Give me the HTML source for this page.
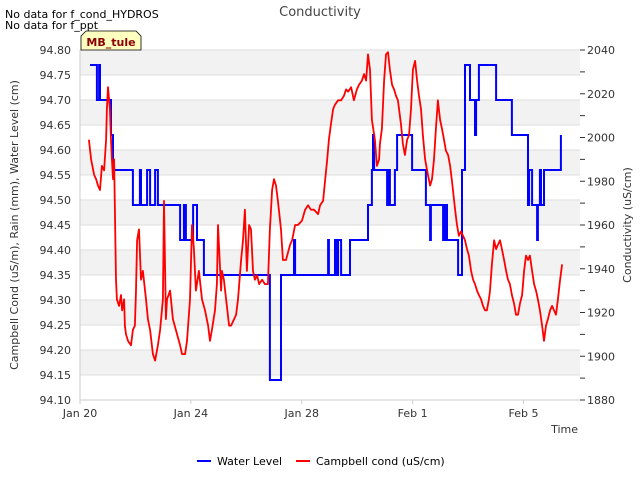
<!DOCTYPE html>
<html><head><meta charset="utf-8"><style>
body{margin:0;background:#fff;font-family:"Liberation Sans","DejaVu Sans",sans-serif}
svg text{font-family:"DejaVu Sans","Liberation Sans",sans-serif}
</style></head><body>
<svg id="chart" width="640" height="480" viewBox="0 0 640 480" xmlns="http://www.w3.org/2000/svg">
<g id="bands"></g>
<g id="axes"></g>
<g id="series"></g>
<text x="320" y="16" text-anchor="middle" font-size="13" fill="#444">Conductivity</text>
<text x="5" y="18" font-size="11" fill="#000">No data for f_cond_HYDROS</text>
<text x="5" y="29" font-size="11" fill="#000">No data for f_ppt</text>
<g><path d="M81,50 L81,36 L86,31 L136,31 L141,36 L141,50 Z" fill="#ffffc0" stroke="#000" stroke-width="0.8"/><text x="111" y="46" text-anchor="middle" font-size="11" font-weight="bold" fill="#8b0000">MB_tule</text></g>
<text transform="translate(18,225) rotate(-90)" text-anchor="middle" font-size="11" fill="#333">Campbell Cond (uS/m), Rain (mm), Water Level (cm)</text>
<text transform="translate(631,225) rotate(-90)" text-anchor="middle" font-size="11" fill="#333">Conductivity (uS/cm)</text>
<text x="578" y="433" text-anchor="end" font-size="11" fill="#333">Time</text>
<g>
<g><line x1="197" y1="461" x2="211" y2="461" stroke="#00f" stroke-width="2"/><text x="217" y="465" font-size="11">Water Level</text></g>
<g><line x1="296" y1="461" x2="310" y2="461" stroke="#f00" stroke-width="2"/><text x="316" y="465" font-size="11">Campbell cond (uS/cm)</text></g>
</g>
</svg>
<script>
const xTickDays=[0,4,8,12,16];
const xTickLabels=["Jan 20","Jan 24","Jan 28","Feb 1","Feb 5"];
const leftTicks=[94.10,94.15,94.20,94.25,94.30,94.35,94.40,94.45,94.50,94.55,94.60,94.65,94.70,94.75,94.80];
const rightTicks=[1880,1900,1920,1940,1960,1980,2000,2020,2040];
const waterDays=[0.36,0.61,0.69,0.72,1.12,1.19,1.91,2.16,2.20,2.42,2.53,2.71,2.81,3.61,3.75,3.82,4.08,4.22,4.47,6.85,7.25,7.72,7.76,8.95,8.98,9.20,9.24,9.31,9.42,9.74,10.39,10.53,10.57,10.61,11.08,11.15,11.18,11.36,11.44,11.98,12.48,12.63,12.66,13.10,13.17,13.24,13.64,13.78,13.89,14.07,14.25,14.29,14.39,15.01,15.58,16.16,16.20,16.31,16.49,16.52,16.59,16.63,16.74,17.35];
const waterLevel=[94.77,94.70,94.77,94.70,94.63,94.56,94.49,94.56,94.49,94.56,94.49,94.56,94.49,94.42,94.49,94.42,94.49,94.42,94.35,94.14,94.35,94.42,94.35,94.42,94.35,94.42,94.35,94.42,94.35,94.42,94.49,94.56,94.63,94.56,94.49,94.56,94.49,94.56,94.63,94.56,94.49,94.42,94.49,94.42,94.49,94.42,94.35,94.56,94.77,94.70,94.63,94.70,94.77,94.70,94.63,94.49,94.56,94.49,94.42,94.49,94.56,94.49,94.56,94.63];
const condDays=[0.32,0.40,0.51,0.58,0.65,0.72,0.79,0.87,0.94,0.97,1.01,1.08,1.12,1.15,1.19,1.23,1.30,1.33,1.41,1.48,1.52,1.59,1.62,1.66,1.73,1.84,1.91,1.98,2.02,2.06,2.13,2.20,2.27,2.38,2.45,2.53,2.63,2.71,2.81,2.89,2.99,3.03,3.10,3.14,3.25,3.35,3.46,3.61,3.68,3.79,3.86,3.97,4.04,4.11,4.18,4.29,4.40,4.51,4.62,4.69,4.76,4.87,4.94,4.98,5.09,5.12,5.19,5.27,5.38,5.45,5.56,5.63,5.70,5.81,5.88,5.95,6.02,6.10,6.17,6.24,6.31,6.39,6.46,6.57,6.67,6.78,6.85,6.93,7.00,7.07,7.14,7.25,7.32,7.43,7.58,7.65,7.76,7.86,8.01,8.12,8.23,8.33,8.44,8.59,8.66,8.77,8.84,8.91,8.98,9.05,9.13,9.20,9.31,9.42,9.52,9.60,9.67,9.78,9.88,9.99,10.06,10.17,10.25,10.32,10.39,10.46,10.53,10.64,10.71,10.79,10.82,10.89,10.97,11.04,11.11,11.18,11.26,11.33,11.40,11.47,11.58,11.65,11.72,11.80,11.87,11.94,12.01,12.09,12.16,12.23,12.30,12.37,12.45,12.55,12.63,12.70,12.77,12.84,12.91,12.99,13.06,13.13,13.20,13.28,13.35,13.42,13.53,13.60,13.67,13.74,13.82,13.89,13.96,14.03,14.11,14.18,14.25,14.32,14.39,14.47,14.54,14.61,14.68,14.75,14.79,14.86,14.94,15.01,15.08,15.15,15.22,15.30,15.37,15.44,15.51,15.58,15.66,15.73,15.80,15.87,15.95,16.02,16.09,16.16,16.23,16.31,16.38,16.45,16.52,16.59,16.67,16.74,16.81,16.88,16.96,17.03,17.10,17.17,17.24,17.32,17.39];
const condValues=[1999,1990,1983,1981,1978,1976,1987,1985,1999,2013,2023,2013,1999,1990,1981,1990,1935,1926,1923,1928,1921,1926,1914,1910,1907,1905,1912,1914,1930,1953,1958,1935,1939,1926,1917,1912,1901,1898,1905,1912,1926,1971,1917,1926,1930,1917,1912,1905,1901,1901,1907,1926,1960,1949,1930,1939,1926,1921,1914,1907,1912,1921,1933,1960,1930,1939,1935,1926,1914,1914,1917,1919,1926,1944,1953,1967,1939,1960,1958,1939,1935,1937,1933,1935,1933,1933,1958,1976,1981,1978,1971,1958,1944,1944,1951,1953,1960,1960,1962,1967,1969,1967,1967,1965,1969,1971,1980,1989,1999,2006,2013,2015,2017,2017,2019,2022,2021,2023,2017,2022,2024,2026,2029,2026,2038,2031,2008,1999,1987,1990,1997,2004,2026,2038,2039,2031,2024,2022,2019,2017,2006,1997,1992,1999,2001,2013,2031,2035,2026,2019,2013,2001,1990,1983,1978,1981,1990,2004,2017,2008,2004,1999,1994,1992,1987,1980,1967,1960,1955,1957,1955,1953,1949,1946,1939,1935,1933,1930,1928,1926,1923,1921,1921,1926,1930,1942,1953,1949,1951,1953,1949,1944,1939,1935,1933,1928,1924,1919,1919,1924,1928,1939,1946,1944,1946,1939,1933,1930,1926,1921,1914,1907,1914,1917,1921,1923,1921,1919,1926,1935,1942];
const X0=80,X1=580,Y0=50,Y1=400;
const PX_PER_DAY=27.72;
function xs(d){return X0+d*PX_PER_DAY;}
function yl(v){return Y1-(v-94.10)/(0.70)*(Y1-Y0);}
function yr(v){return Y1-(v-1880)/160*(Y1-Y0);}
const NS="http://www.w3.org/2000/svg";
function mk(tag,attrs,parent){const e=document.createElementNS(NS,tag);for(const k in attrs)e.setAttribute(k,attrs[k]);parent.appendChild(e);return e;}
const bands=document.getElementById('bands'),axes=document.getElementById('axes'),series=document.getElementById('series');
for(let i=0;i<leftTicks.length-1;i++){
  const ya=yl(leftTicks[i+1]),yb=yl(leftTicks[i]);
  const r=mk('rect',{x:X0,y:ya,width:X1-X0,height:yb-ya,fill:(i%2===leftTicks.length%2)?'#f2f2f2':'#fff'},bands);
  
  
}
leftTicks.forEach(v=>{
  const y=yl(v);
  const l=mk('line',{x1:X0,x2:X1,y1:y,y2:y,stroke:'#ddd','stroke-width':1},bands);
  
  
  const t=mk('text',{x:X0-9,y:y+4,'text-anchor':'end','font-size':11,fill:'#333'},axes);
  t.textContent=v.toFixed(2);
  
  
});
mk('line',{x1:X0,x2:X0,y1:Y0,y2:Y1,stroke:'#ccc'},axes);
mk('line',{x1:X0,x2:X1,y1:Y1,y2:Y1,stroke:'#ccc'},axes);
for(let v=1880;v<=2040;v+=10){
  const y=yr(v);
  mk('line',{x1:X1,x2:X1+5,y1:y,y2:y,stroke:'#333'},axes);
}
rightTicks.forEach(v=>{
  const t=mk('text',{x:X1+7,y:yr(v)+4,'font-size':11,fill:'#333'},axes);
  t.textContent=v;
  
  
});
xTickDays.forEach((d,i)=>{
  const x=xs(d);
  mk('line',{x1:x,x2:x,y1:Y1,y2:Y1+4,stroke:'#ccc'},axes);
  const t=mk('text',{x:x,y:Y1+17,'text-anchor':'middle','font-size':11,fill:'#333'},axes);
  t.textContent=xTickLabels[i];
  
  
});
let wp='';
waterDays.forEach((d,i)=>{
  const x=xs(d).toFixed(1),y=yl(waterLevel[i]).toFixed(1);
  if(i===0)wp+='M'+x+','+y;else wp+=' H'+x+' V'+y;
});
const wl=mk('path',{d:wp,fill:'none',stroke:'#0000ff','stroke-width':2},series);


const cp=condDays.map((d,i)=>(i?'L':'M')+xs(d).toFixed(1)+','+yr(condValues[i]).toFixed(1)).join(' ');
const cl=mk('path',{d:cp,fill:'none',stroke:'#ff0000','stroke-width':1.8,'stroke-linejoin':'round'},series);


</script>
</body></html>
